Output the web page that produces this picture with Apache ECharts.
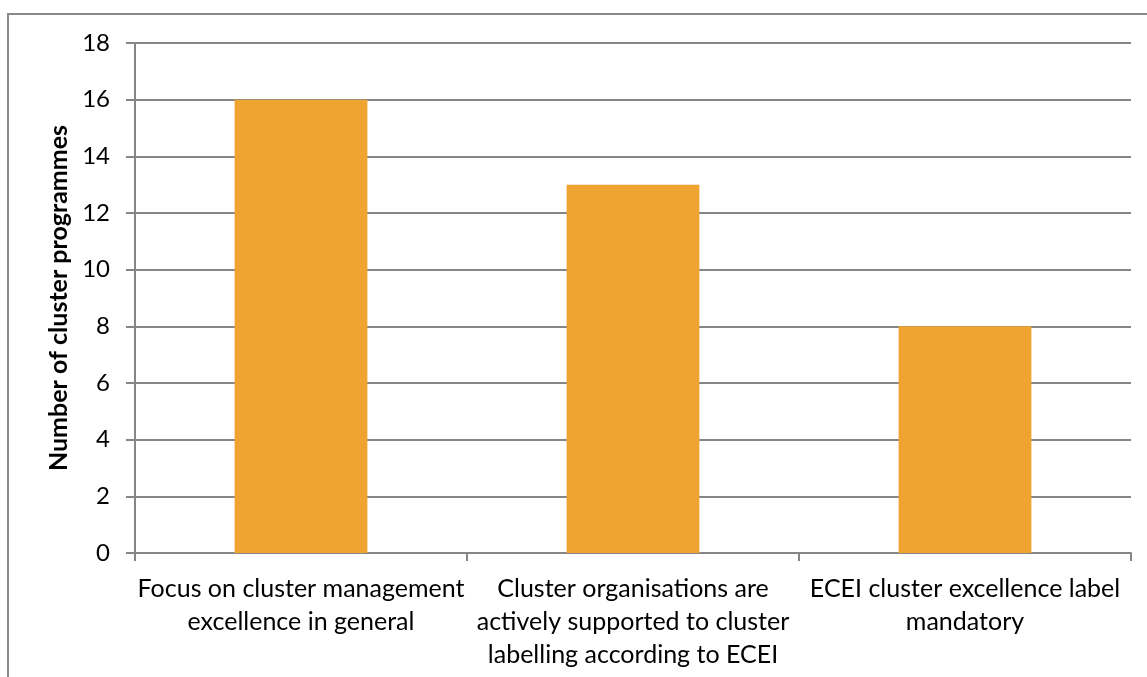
<!DOCTYPE html>
<html><head><meta charset="utf-8">
<script src="https://cdn.jsdelivr.net/npm/echarts@6/dist/echarts.min.js"></script>
<style>html,body{margin:0;padding:0;background:#fff}#c{width:1147px;height:677px}</style>
</head><body><div id="c"></div>
<script>
var categories = ["Focus on cluster management\nexcellence in general", "Cluster organisations are\nactively supported to cluster\nlabelling according to ECEI", "ECEI cluster excellence label\nmandatory"];
var values = [16, 13, 8];
var yTitle = "Number of cluster programmes";
var FONT = "Lato";
var chart = echarts.init(document.getElementById('c'));
chart.setOption({
  animation: false,
  graphic: [{type:'rect', shape:{x:8,y:14,width:1300,height:800}, style:{fill:'none', stroke:'#8a8a8a', lineWidth:2}, silent:true}],
  grid: {left:135, top:43, right:16, bottom:124},
  xAxis: {
    type:'category', data:categories,
    axisLine:{lineStyle:{color:'#868686', width:2}},
    axisTick:{show:true, length:8, lineStyle:{color:'#868686', width:2}, alignWithLabel:false},
    axisLabel:{color:'#000', fontFamily:FONT, fontSize:25, lineHeight:33, margin:19, interval:0}
  },
  yAxis: {
    type:'value', min:0, max:18, interval:2,
    name: yTitle, nameLocation:'middle', nameGap:60, nameRotate:90,
    nameTextStyle:{color:'#000', fontFamily:FONT, fontSize:25, fontWeight:'bold'},
    axisLine:{show:true, lineStyle:{color:'#868686', width:2}},
    axisTick:{show:true, length:9, inside:false, lineStyle:{color:'#868686', width:2}},
    axisLabel:{color:'#000', fontFamily:FONT, fontSize:24, margin:25},
    splitLine:{lineStyle:{color:'#868686', width:2}}
  },
  series: [{type:'bar', data:values, barWidth:'40%', itemStyle:{color:'#EFA331'}}]
});
</script></body></html>
